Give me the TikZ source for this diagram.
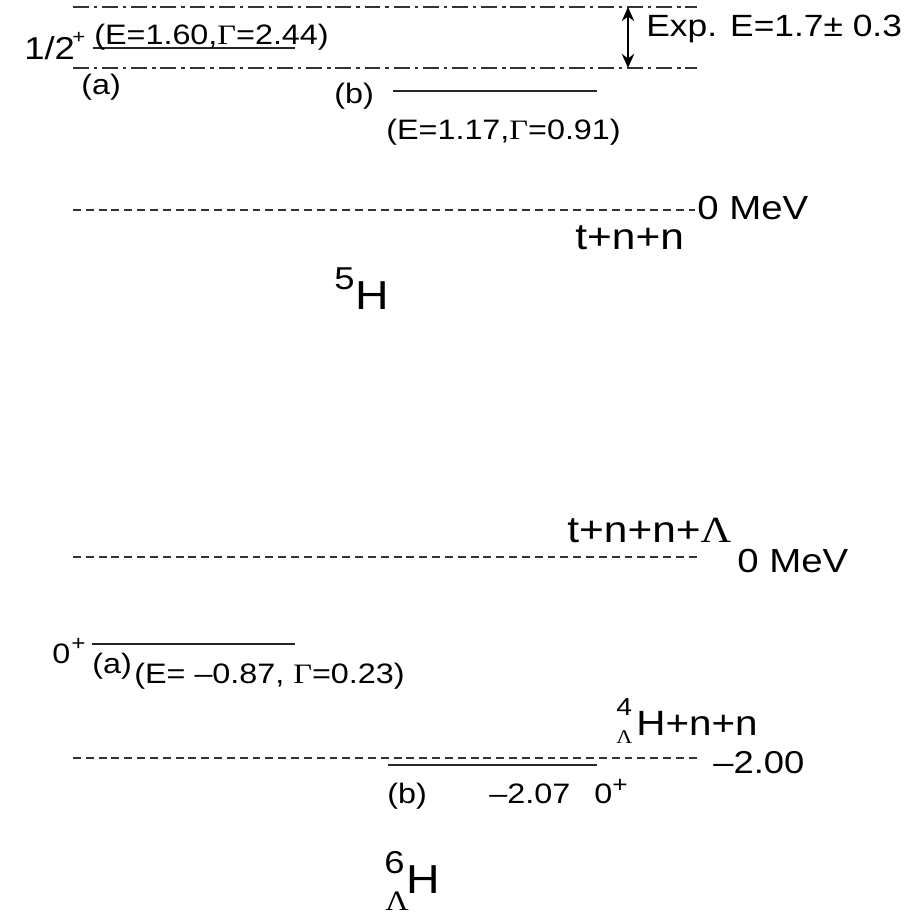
\documentclass[tikz,border=0pt]{standalone}
\usepackage{fontspec}
\setmainfont{Liberation Sans}[FakeStretch=1.15]
\newfontfamily\grk{Liberation Serif}[FakeStretch=1.15]
\usetikzlibrary{arrows.meta}

\newcommand{\Gam}{{\grk Γ}}
\newcommand{\Lam}{{\grk Λ}}
\newcommand{\fs}[1]{\fontsize{#1}{#1}\selectfont}

\begin{document}
\begin{tikzpicture}[x=0.02cm,y=-0.02cm,
  lvl/.style={line width=0.7pt,black!85},
  gslvl/.style={line width=1.6pt,black!85},
  thr/.style={line width=0.6pt,black!80,dash pattern=on 4.5pt off 2.8pt},
  expline/.style={line width=0.6pt,black!80,dash pattern=on 9pt off 2.8pt on 2pt off 2.8pt},
  txt/.style={inner sep=0pt,anchor=base west},
  sml/.style={txt,font=\fs{16}},
  big/.style={txt,font=\fs{21}},
  arr/.style={{Stealth[length=8pt,width=7pt]}-{Stealth[length=8pt,width=7pt]},line width=1.4pt}
]
\useasboundingbox (0,0) rectangle (919,915);

% 5H: experimental window
\coordinate (expT0) at (73,7);
\coordinate (expT1) at (697,7);
\coordinate (expB0) at (73,68);
\coordinate (expB1) at (697,68);
\draw[expline] (expT0) -- (expT1);
\draw[expline] (expB0) -- (expB1);
\coordinate (expU) at (628,7);
\coordinate (expD) at (628,68);
\draw[arr] (expU) -- (expD);
\node[txt,font=\fs{17.5}] (explbl) at (646,37) {Exp. E=1.7± 0.3};

% 5H: levels
\coordinate (a5l) at (93,48);
\coordinate (a5r) at (295,48);
\draw[lvl] (a5l) -- (a5r);
\node[txt,font=\fs{18}] (jp5) at (24,60) {1/2};
\node[txt,font=\fs{11}] (jp5s) at (72,44) {+};
\node[sml] (ea5) at (94,45) {(E=1.60,\Gam=2.44)};
\node[sml] (la5) at (81,95) {(a)};
\coordinate (b5l) at (393,91);
\coordinate (b5r) at (597,91);
\draw[lvl] (b5l) -- (b5r);
\node[sml] (lb5) at (334,104) {(b)};
\node[sml] (eb5) at (386,140) {(E=1.17,\Gam=0.91)};

% 5H: threshold
\coordinate (thr5l) at (73,210);
\coordinate (thr5r) at (695,210);
\draw[thr] (thr5l) -- (thr5r);
\node[txt,font=\fs{19}] (mev5) at (697,220) {0 MeV};
\node[big] (ch5) at (575,250) {t+n+n};
\node[txt,font=\fs{18}] (nuc5a) at (334,290) {5};
\node[txt,font=\fs{23}] (nuc5) at (355,310) {H};

% 6LH: thresholds
\coordinate (thr6l) at (73,557);
\coordinate (thr6r) at (697,557);
\draw[thr] (thr6l) -- (thr6r);
\node[big] (ch6) at (567,542) {t+n+n+\Lam};
\node[txt,font=\fs{19}] (mev6) at (737,572) {0 MeV};
\coordinate (thr4l) at (73,758);
\coordinate (thr4r) at (697,758);
\draw[thr] (thr4l) -- (thr4r);
\node[txt,font=\fs{14}] (ch4m) at (616,715) {4};
\node[txt,font=\fs{11}] (ch4l) at (616,743) {\Lam};
\node[txt,font=\fs{20}] (ch4) at (636,735) {H+n+n};
\node[txt,font=\fs{18}] (thr4v) at (713,773) {–2.00};

% 6LH: levels
\coordinate (a6l) at (92,644);
\coordinate (a6r) at (295,644);
\draw[lvl] (a6l) -- (a6r);
\node[txt,font=\fs{16}] (jp6a) at (52,663) {0};
\node[txt,font=\fs{12}] (jp6as) at (71,650) {+};
\node[sml] (la6) at (92,673) {(a)};
\node[sml] (ea6) at (134,683) {(E= –0.87, \Gam=0.23)};
\coordinate (b6l) at (388,765);
\coordinate (b6r) at (597,765);
\draw[gslvl] (b6l) -- (b6r);
\node[sml] (lb6) at (387,803) {(b)};
\node[txt,font=\fs{16}] (eb6) at (489,803) {–2.07};
\node[txt,font=\fs{16}] (jp6b) at (594,803) {0};
\node[txt,font=\fs{13}] (jp6bs) at (612,792) {+};
\node[txt,font=\fs{18}] (nuc6a) at (384,873) {6};
\node[txt,font=\fs{23}] (nuc6) at (406,893) {H};
\node[txt,font=\fs{16}] (nuc6l) at (385,910) {\Lam};
\end{tikzpicture}
\end{document}
